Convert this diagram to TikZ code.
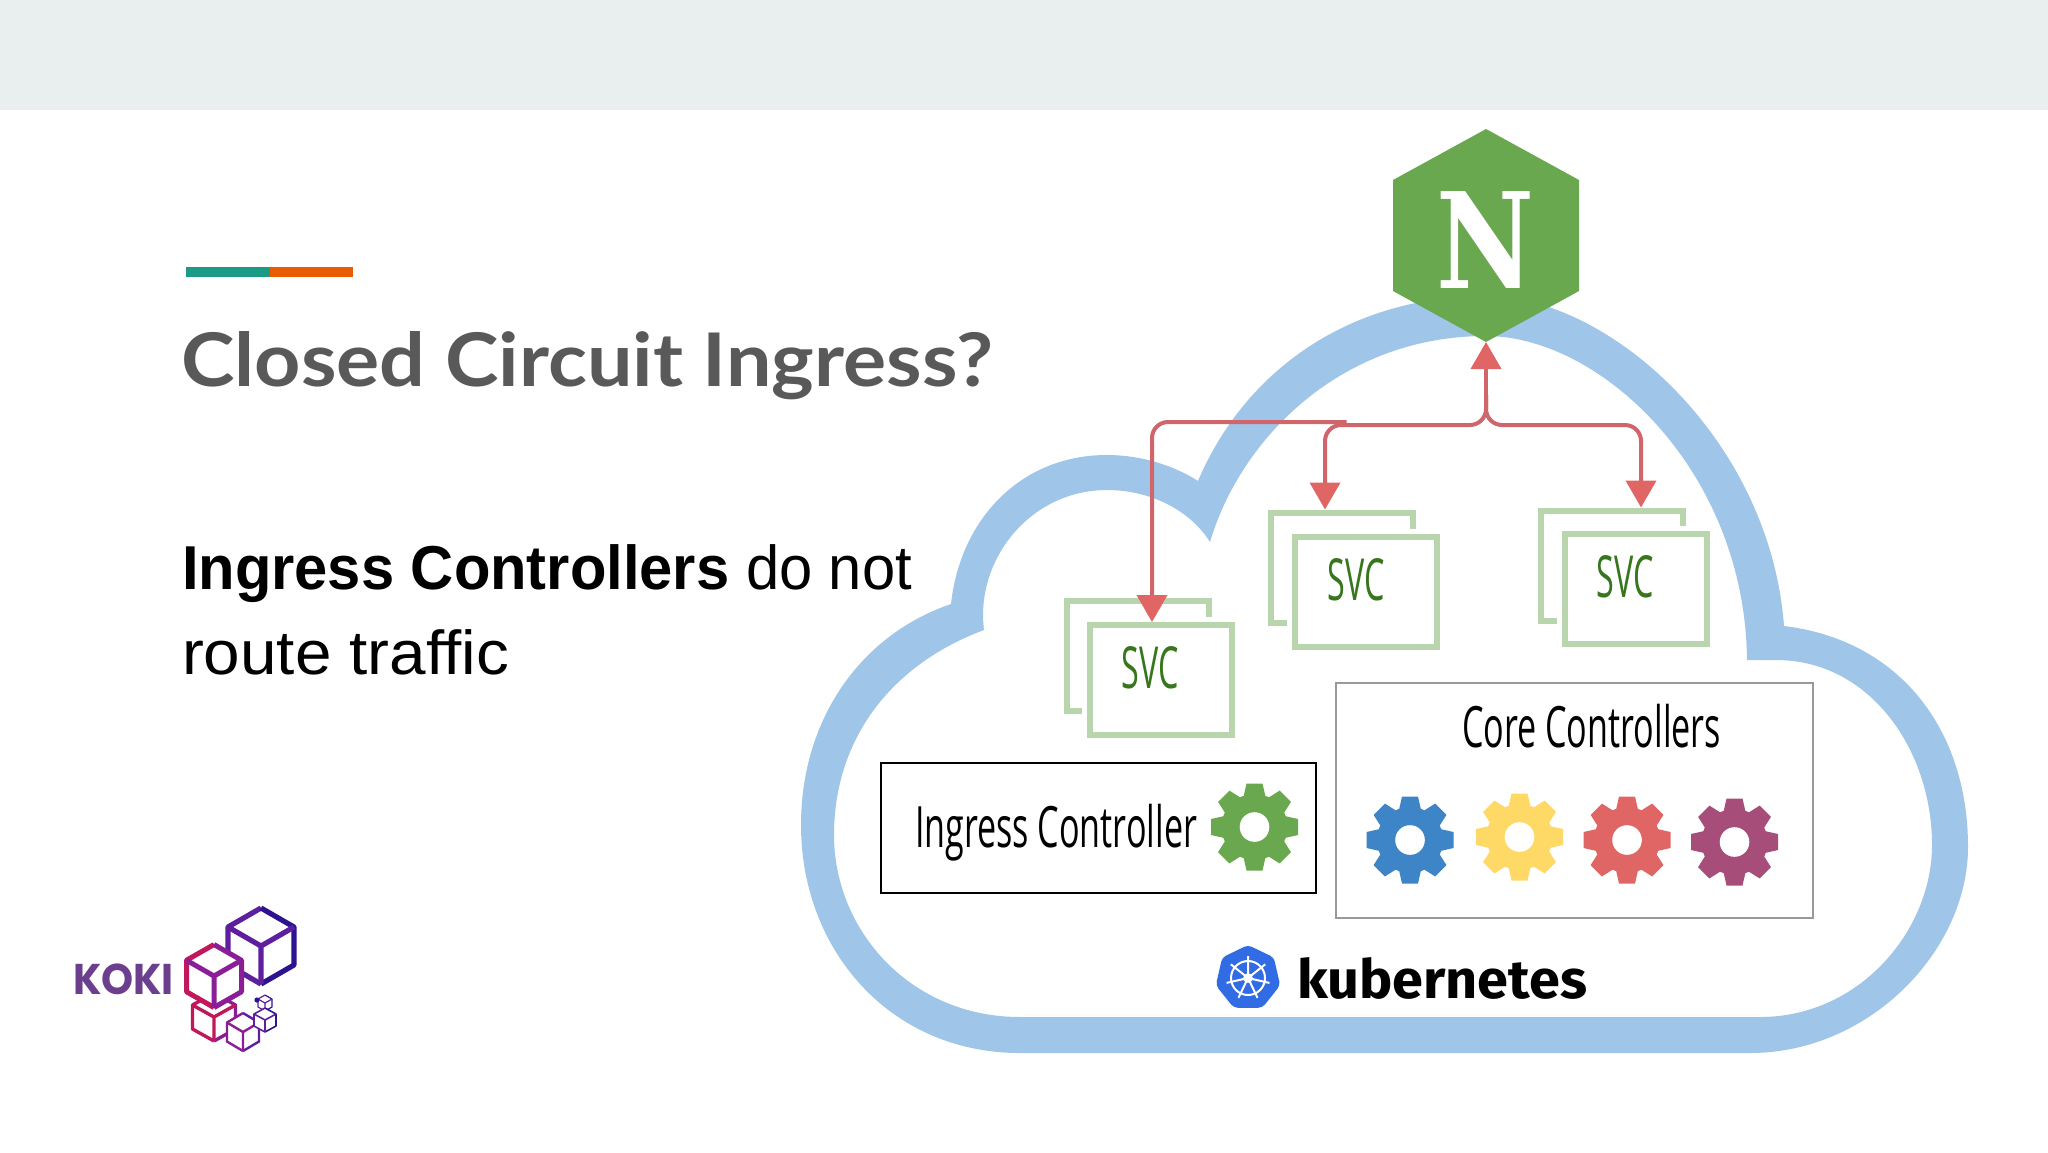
\documentclass[tikz,border=0pt]{standalone}
\usepackage{fontspec}
\usepackage{graphicx}
\usetikzlibrary{arrows.meta,shapes.geometric,calc}
\setmainfont{Liberation Sans}
\newfontfamily\titlefont{Lato}
\newfontfamily\diafont{Open Sans}
\newfontfamily\kubefont{Fira Sans}
\newfontfamily\kokifont{Poppins}
\newfontfamily\nfont{DejaVu Serif}
\definecolor{bandc}{HTML}{E9EFEE}
\definecolor{tealc}{HTML}{1B9A85}
\definecolor{orangec}{HTML}{E85D04}
\definecolor{titlec}{HTML}{595959}
\definecolor{cloudc}{HTML}{9FC5E8}
\definecolor{nginxc}{HTML}{6AA84F}
\definecolor{flowc}{HTML}{D0666C}
\definecolor{tipc}{HTML}{E06666}
\definecolor{svcline}{HTML}{B9D5AE}
\definecolor{svctext}{HTML}{38761D}
\definecolor{gblue}{HTML}{3D85C6}
\definecolor{gyellow}{HTML}{FFD966}
\definecolor{gred}{HTML}{E06666}
\definecolor{gpurple}{HTML}{A64D79}
\definecolor{kubec}{HTML}{326CE5}
\definecolor{kokic}{HTML}{6B3F8E}
\definecolor{cpink}{HTML}{C2185B}
\definecolor{cmid}{HTML}{8A1E96}
\definecolor{cviolet}{HTML}{5E1F9E}
\definecolor{cindigo}{HTML}{2E1390}
\newcommand{\fitw}[2]{\resizebox{#1pt}{\height}{#2}}
\tikzset{
  txt/.style={inner sep=0pt,outer sep=0pt,anchor=base west},
  flow/.style={draw=flowc,line width=2pt,rounded corners=8pt},
  flowtip/.style={-{Triangle[width=15pt,length=13.5pt,fill=tipc,color=tipc]}},
  svcbox/.style={draw=svcline,line width=3pt,fill=white,minimum width=71pt,minimum height=55pt,inner sep=0pt},
  svcfront/.style={svcbox,preaction={draw=white,line width=8pt}},
  svclabel/.style={inner sep=0pt,text=svctext,font=\diafont\fontsize{29}{29}\selectfont},
  ctrlbox/.style={fill=white,inner sep=0pt,line width=1pt},
  ctrllabel/.style={txt,font=\diafont\fontsize{28.5}{28.5}\selectfont},
  pics/gear/.style={code={
    \fill[#1] (0,0) circle[radius=16.5pt];
    \foreach \a in {0,45,...,315}{
      \fill[#1,rotate=\a] (-11.5,28) -- (-8,43.5) -- (8,43.5) -- (11.5,28) -- cycle;
    }
    \fill[white] (0,0) circle[radius=7.4pt];
  }},
  pics/cube/.style n args={4}{code={
    \fill[white] (0,-1) -- (1,-.5) -- (1,.5) -- (0,1) -- (-1,.5) -- (-1,-.5) -- cycle;
    \draw[#2,line width=#1,line join=round] (0,-1) -- (-1,-.5) -- (-1,.5) -- (0,1);
    \draw[#4,line width=#1,line join=round] (0,-1) -- (1,-.5) -- (1,.5) -- (0,1);
    \draw[#3,line width=#1,line join=round] (-1,-.5) -- (0,0) -- (1,-.5) (0,0) -- (0,1);
  }}
}
\begin{document}
\begin{tikzpicture}[x=0.5pt,y=-0.5pt]
\useasboundingbox (0,0) rectangle (2048,1152);
\fill[white] (0,0) rectangle (2048,1152);
\fill[bandc] (0,0) rectangle (2048,110);
% accent bar
\fill[tealc] (186,267) rectangle (270,277);
\fill[orangec] (270,267) rectangle (353,277);
% left text
\node[txt,text=titlec,font=\titlefont\bfseries\fontsize{37}{37}\selectfont] (title) at (181,386) {\fitw{406}{Closed Circuit Ingress?}};
\node[txt,font=\fontsize{31}{31}\selectfont] (body1) at (182,589) {\fitw{365}{\textbf{Ingress Controllers} do not}};
\node[txt,font=\fontsize{31}{31}\selectfont] (body2) at (182,674) {\fitw{163.5}{route traffic}};
% cloud
\fill[cloudc,even odd rule]
  (1198,481) .. controls (1245,370) and (1350,296) .. (1486,296)
  .. controls (1610,296) and (1770,440) .. (1784,626)
  .. controls (1900,640) and (1968,730) .. (1968,847)
  .. controls (1968,950) and (1870,1053) .. (1750,1053)
  -- (1020,1053)
  .. controls (890,1053) and (801,950) .. (801,825)
  .. controls (801,720) and (860,635) .. (951,604)
  .. controls (960,520) and (1020,455) .. (1107,455)
  .. controls (1145,455) and (1178,468) .. (1198,481) -- cycle
  (1210,542) .. controls (1240,440) and (1340,336) .. (1486,336)
  .. controls (1600,336) and (1745,470) .. (1747,660)
  -- (1776,660)
  .. controls (1870,660) and (1932,750) .. (1932,845)
  .. controls (1932,930) and (1860,1017) .. (1760,1017)
  -- (1020,1017)
  .. controls (910,1017) and (834,930) .. (834,835)
  .. controls (834,740) and (890,665) .. (984,630)
  .. controls (975,560) and (1030,490) .. (1107,490)
  .. controls (1150,490) and (1190,510) .. (1210,542) -- cycle;
% nginx hexagon
\node[minimum width=93pt,minimum height=106.5pt,inner sep=0pt,outer sep=0pt] (nginx) at (1486,235.5) {};
\fill[nginxc] (nginx.north) -- ($(nginx.north east)+(0,51)$) -- ($(nginx.south east)+(0,-51)$) -- (nginx.south)
  -- ($(nginx.south west)+(0,-51)$) -- ($(nginx.north west)+(0,51)$) -- cycle;
\node[txt,anchor=base,text=white,font=\nfont\bfseries\fontsize{66.5}{66.5}\selectfont] (nlabel) at (1485.5,288) {\fitw{49}{N}};
% SVC groups
\node[svcbox] (svc1back) at (1138,655.5) {};
\node[svcfront] (svc1) at (1161,680) {};
\node[svclabel] (svc1t) at (1150,668) {\fitw{28.5}{SVC}};
\node[svcbox] (svc2back) at (1342,567.5) {};
\node[svcfront] (svc2) at (1366,591.5) {};
\node[svclabel] (svc2t) at (1356,580) {\fitw{28.5}{SVC}};
\node[svcbox] (svc3back) at (1611.5,565.5) {};
\node[svcfront] (svc3) at (1635.5,589) {};
\node[svclabel] (svc3t) at (1625,577) {\fitw{28.5}{SVC}};
% connectors
\coordinate (junction) at (1486,395);
\coordinate (bus) at (1486,425);
\coordinate (busend) at (1346.5,422);
\coordinate (tip1) at ($(svc1.north west)+(65,0)$);
\coordinate (tip2) at ($(svc2back.north west)+(57,0)$);
\coordinate (tip3) at ($(svc3back.north west)+(103.5,0)$);
\draw[flow,flowtip] (junction) -- (nginx.south);
\draw[flow,flowtip] (junction) -- (bus) -| (tip2);
\draw[flow,flowtip] (junction) -- (bus) -| (tip3);
\draw[flow,flowtip] (busend) -| (tip1);
% Ingress controller
\node[ctrlbox,draw=black,minimum width=217.5pt,minimum height=65pt] (ingbox) at (1098.5,828) {};
\node[ctrllabel] (inglabel) at (915,847) {\fitw{141}{Ingress Controller}};
\pic at (1254.5,827) {gear=nginxc};
% Core controllers
\node[ctrlbox,draw=black!40,minimum width=238.5pt,minimum height=117.5pt] (corebox) at (1574.5,800.5) {};
\node[ctrllabel] (corelabel) at (1462,747) {\fitw{129.5}{Core Controllers}};
\pic at (1410,840) {gear=gblue};
\pic at (1519.5,837) {gear=gyellow};
\pic at (1627,840) {gear=gred};
\pic at (1734.5,842) {gear=gpurple};
% kubernetes logo
\node[regular polygon,regular polygon sides=7,minimum size=33pt,inner sep=0pt,fill=kubec,rounded corners=2pt] (kubelogo) at (1248,978) {};
\draw[white,line width=1pt] (kubelogo.center) circle[radius=8.5pt];
\foreach \a in {90,141.4,...,450}{
  \draw[white,line width=1pt] (kubelogo.center) -- ++(-\a:22);
}
\fill[white] (kubelogo.center) circle[radius=2.4pt];
\node[txt,font=\kubefont\bfseries\fontsize{27}{27}\selectfont] (kubelabel) at (1297,998) {\fitw{145}{kubernetes}};
% KOKI logo
\node[txt,text=kokic,font=\kokifont\bfseries\fontsize{21.5}{21.5}\selectfont] (kokilabel) at (73,994) {\fitw{50.5}{KOKI}};
\pic[xscale=21.5,yscale=24] at (214,1017) {cube={1.7pt}{cpink}{cpink}{cmid}};
\pic[xscale=16,yscale=19] at (243,1032) {cube={1.2pt}{cmid}{cmid}{cviolet}};
\pic[xscale=7,yscale=8] at (265,1003) {cube={.6pt}{cviolet}{cviolet}{cindigo}};
\pic[xscale=11,yscale=12] at (265,1020) {cube={.8pt}{cviolet}{cviolet}{cindigo}};
\fill[cindigo] (257,1000) circle[radius=1.3pt];
\pic[xscale=33,yscale=38] at (261,946) {cube={2.6pt}{cviolet}{cviolet}{cindigo}};
\pic[xscale=27.5,yscale=31.5] at (214,976) {cube={2.5pt}{cpink}{cmid}{cmid}};
\end{tikzpicture}
\end{document}
